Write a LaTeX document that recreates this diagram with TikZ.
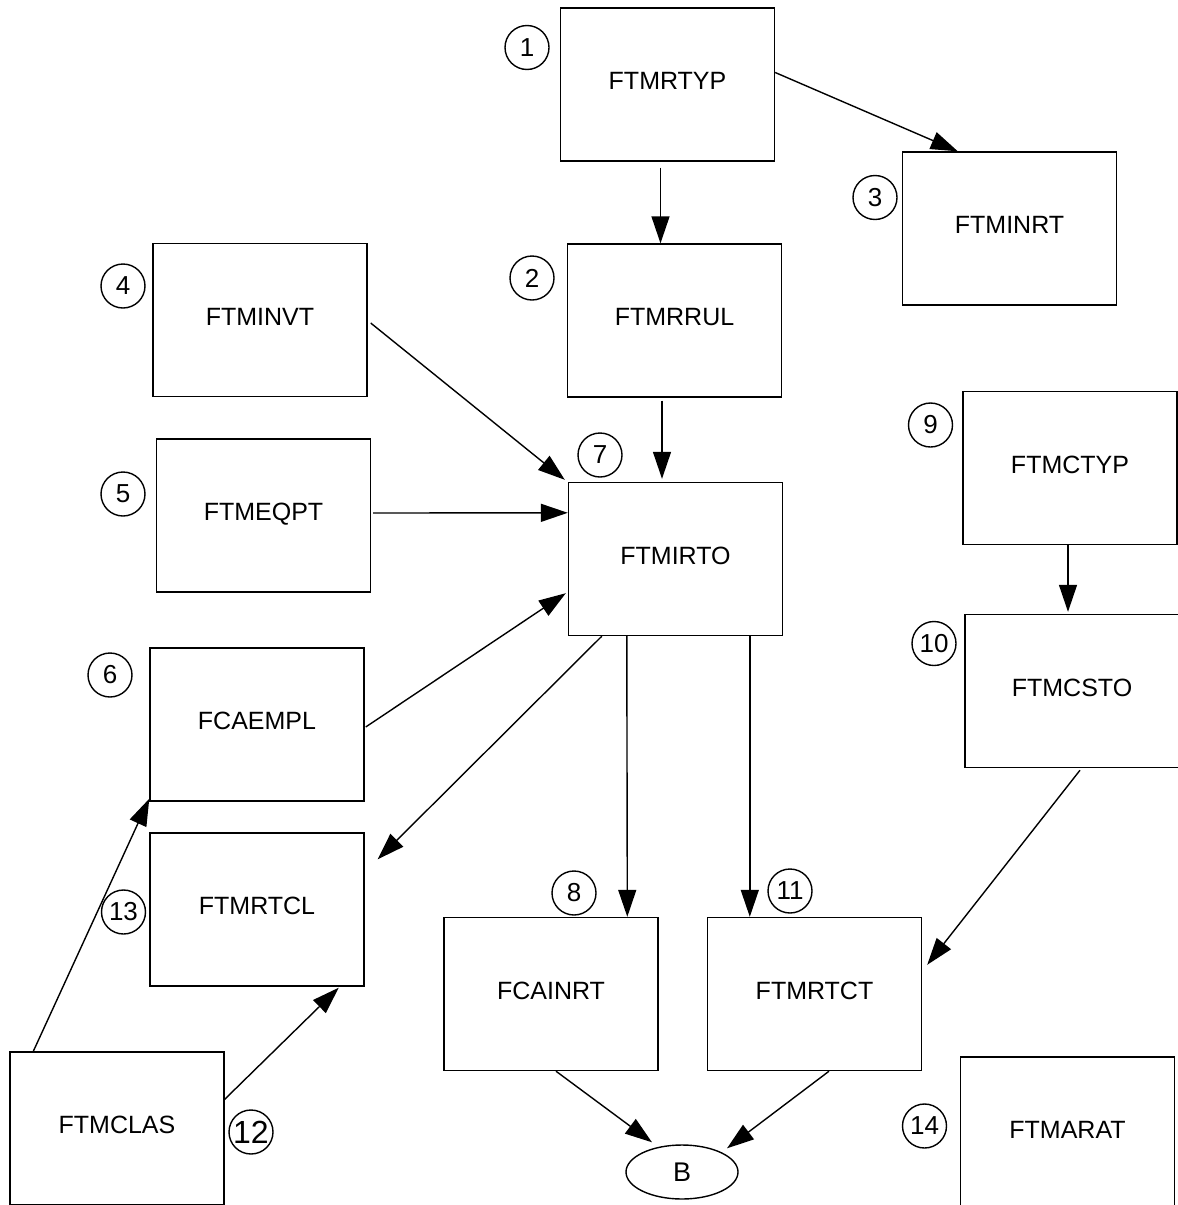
\documentclass[tikz,border=0pt]{standalone}
\usepackage{fontspec}
\setmainfont{Liberation Sans}
\usetikzlibrary{calc,arrows.meta,shapes.geometric}
\tikzset{
	tbl/.style={draw, line width=0.7pt, minimum width=107pt, minimum height=76.5pt, inner sep=0pt, text height=9pt, text depth=4pt, font=\fontsize{12.5}{15}\selectfont},
	num/.style={draw, circle, line width=0.7pt, minimum size=22pt, inner sep=0pt, font=\fontsize{13}{15}\selectfont},
	flow/.style={line width=0.7pt, -{Triangle[length=13.5pt,width=9pt]}}
}
\newcommand{\circnum}[3][]{
\node[num,#1] (c#3) at (#2) {#3};
}

\begin{document}
\begin{tikzpicture}[x=0.5pt,y=-0.5pt]
			\useasboundingbox (0,0) rectangle (1178,1205);
			
			\node[tbl] (rtyp) at (667.5,84.5) {FTMRTYP};
			\node[tbl] (inrt) at (1009.5,228.5) {FTMINRT};
			\node[tbl] (rrul) at (674.5,320.5) {FTMRRUL};
			\node[tbl] (invt) at (260,320) {FTMINVT};
			\node[tbl] (eqpt) at (263.5,515.5) {FTMEQPT};
			\node[tbl] (irto) at (675.5,559) {FTMIRTO};
			\node[tbl] (ctyp) at (1070,468) {FTMCTYP};
			\node[tbl] (csto) at (1072,691) {FTMCSTO};
			\node[tbl] (empl) at (257,724.5) {FCAEMPL};
			\node[tbl] (rtcl) at (257,909.5) {FTMRTCL};
			\node[tbl] (cainrt) at (551,994) {FCAINRT};
			\node[tbl] (rtct) at (814.5,994) {FTMRTCT};
			\node[tbl] (clas) at (117,1128.5) {FTMCLAS};
			\node[tbl] (arat) at (1067.5,1133.5) {FTMARAT};
			\node[draw, ellipse, line width=0.7pt, minimum width=56pt, minimum height=27pt, inner sep=0pt, font=\fontsize{13.5}{15}\selectfont] (B) at (682,1172) {B};
			
			\circnum{527,47.5}{1}
			\circnum{532,278}{2}
			\circnum{875,197.5}{3}
			\circnum{123,286}{4}
			\circnum{123,494}{5}
			\circnum{110,675}{6}
			\circnum{600,455}{7}
			\circnum{574,893}{8}
			\circnum{930.5,425}{9}
			\circnum{934,643.5}{10}
			\circnum{790,891}{11}
			\circnum[font=\fontsize{16}{18}\selectfont]{251,1132}{12}
			\circnum{123.5,912}{13}
			\circnum{924.5,1126}{14}
			
			\draw[flow] ($(rtyp.east)+(0,-12)$) -- ($(inrt.north west)+(56,0)$);
			\draw[flow] ($(rtyp.south)+(-7,6)$) -- ($(rrul.north)+(-14,0)$);
			\draw[flow] ($(invt.east)+(3,3)$) -- ($(irto.north west)+(-3,-2)$);
			\draw[flow] ($(rrul.south)+(-12.5,3)$) -- ($(irto.north)+(-13.5,-3)$);
			\draw[flow] ($(eqpt.east)+(2,-2.5)$) -- ($(irto.north west)+(0,31)$);
			\draw[flow] ($(empl.east)+(1,2.5)$) -- ($(irto.south west)+(-2,-43)$);
			\draw[flow] ($(irto.south west)+(34,0)$) -- ($(rtcl.north east)+(13,27)$);
			\draw[flow] ($(irto.south west)+(59,0)$) -- ($(cainrt.north west)+(184,0)$);
			\draw[flow] ($(irto.south west)+(182,0)$) -- ($(rtct.north west)+(43,0)$);
			\draw[flow] ($(ctyp.south)+(-2,0)$) -- ($(csto.north)+(-4,-2)$);
			\draw[flow] ($(csto.south)+(8,2)$) -- ($(rtct.north east)+(5,48)$);
			\draw[flow] ($(cainrt.south)+(5,0)$) -- ($(B.north)+(-30,-2)$);
			\draw[flow] ($(rtct.south)+(14.5,0)$) -- ($(B.north)+(45,4)$);
			\draw[flow] ($(clas.north west)+(24,0)$) -- ($(empl.south west)+(0,-3)$);
			\draw[flow] ($(clas.north east)+(0,48)$) -- ($(rtcl.south east)+(-26,1)$);
\end{tikzpicture}
\end{document}
